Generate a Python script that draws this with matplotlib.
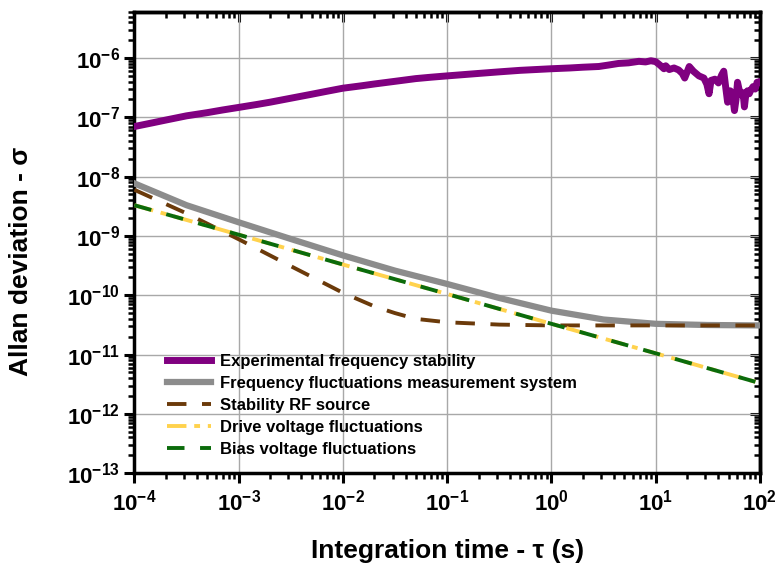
import matplotlib
matplotlib.use("Agg")
import matplotlib.pyplot as plt
from matplotlib.ticker import LogLocator, NullFormatter

plt.rcParams['font.family'] = ['Liberation Sans', 'DejaVu Sans']
plt.rcParams['font.weight'] = 'bold'
plt.rcParams['axes.unicode_minus'] = False

# Experimental frequency stability (purple)
tau_exp = [1e-4, 1.5e-4, 2e-4, 3.16e-4, 5e-4, 7e-4, 1e-3, 1.5e-3, 2e-3,
           3.16e-3, 5e-3, 7e-3, 1e-2, 1.5e-2, 2e-2, 3.16e-2, 5e-2, 7e-2,
           1e-1, 2e-1, 3.16e-1, 5e-1, 1.0, 1.5, 2.0, 2.85, 3.5, 4.4, 5.5,
           6.9, 8.0, 9.0, 10.0, 11.0, 12.0, 12.5, 13.5, 15.0, 16.6, 18.0,
           19.0, 21.0, 23.0, 26.0, 29.0, 31.0, 32.5, 34.0, 37.0, 40.0, 43.0,
           45.0, 47.0, 49.0, 52.0, 55.0, 57.0, 59.0, 61.0, 63.0, 66.0, 69.0,
           71.0, 73.0, 76.0, 79.0, 82.0, 86.0, 90.0, 94.0, 100.0]
sig_exp = [7.0e-8, 8.1e-8, 9.0e-8, 1.06e-7, 1.2e-7, 1.33e-7, 1.47e-7,
           1.65e-7, 1.8e-7, 2.1e-7, 2.45e-7, 2.75e-7, 3.1e-7, 3.4e-7,
           3.65e-7, 4.05e-7, 4.5e-7, 4.75e-7, 5.0e-7, 5.5e-7, 5.85e-7,
           6.2e-7, 6.6e-7, 6.8e-7, 7.0e-7, 7.2e-7, 7.6e-7, 8.1e-7, 8.3e-7,
           8.8e-7, 8.6e-7, 9.0e-7, 8.7e-7, 7.6e-7, 6.6e-7, 7.4e-7, 6.4e-7,
           6.8e-7, 6.3e-7, 5.5e-7, 4.6e-7, 7.2e-7, 6.0e-7, 5.0e-7, 4.6e-7,
           3.6e-7, 2.5e-7, 4.2e-7, 4.4e-7, 3.8e-7, 5.2e-7, 6.0e-7, 3.2e-7,
           1.8e-7, 2.8e-7, 2.2e-7, 1.3e-7, 2.0e-7, 3.9e-7, 3.0e-7, 2.4e-7,
           2.6e-7, 1.5e-7, 2.3e-7, 2.8e-7, 2.5e-7, 2.9e-7, 3.3e-7, 3.0e-7,
           3.9e-7, 4.0e-7]

# Frequency fluctuations measurement system (grey)
tau_sys = [1e-4, 3.16e-4, 1e-3, 3.16e-3, 1e-2, 3.16e-2, 1e-1, 3.16e-1, 1.0,
           3.16, 10.0, 31.6, 100.0]
sig_sys = [7.7e-9, 3.3e-9, 1.7e-9, 8.9e-10, 4.7e-10, 2.6e-10, 1.55e-10,
           9.0e-11, 5.5e-11, 3.9e-11, 3.3e-11, 3.15e-11, 3.1e-11]

# Stability RF source (brown)
tau_rf = [1e-4, 3.16e-4, 1e-3, 3.16e-3, 1e-2, 2e-2, 3.16e-2, 5e-2, 1e-1,
          3.16e-1, 1.0, 10.0, 100.0]
sig_rf = [6.0e-9, 2.4e-9, 8.8e-10, 3.1e-10, 1.1e-10, 6.5e-11, 5.0e-11,
          4.0e-11, 3.5e-11, 3.2e-11, 3.1e-11, 3.1e-11, 3.1e-11]

# Drive voltage fluctuations (yellow) and bias voltage fluctuations (green)
tau_volt = [1e-4, 1e-3, 1e-2, 1e-1, 1.0, 10.0, 100.0]
sig_drive = [3.3e-9, 1.05e-9, 3.3e-10, 1.05e-10, 3.3e-11, 1.05e-11, 3.3e-12]
sig_bias = [3.3e-9, 1.05e-9, 3.3e-10, 1.05e-10, 3.3e-11, 1.05e-11, 3.3e-12]

fig = plt.figure(figsize=(7.77, 5.66), dpi=100)
ax = fig.add_axes([0.173, 0.164, 0.805, 0.815])

ax.plot(tau_exp, sig_exp, color='#800080', lw=5, solid_joinstyle='round',
        label='Experimental frequency stability', zorder=5)
ax.plot(tau_sys, sig_sys, color='#8c8c8c', lw=4.5,
        label='Frequency fluctuations measurement system', zorder=3)
ax.plot(tau_rf, sig_rf, color='#6b3a0a', lw=2.8, ls=(0, (5, 4)),
        label='Stability RF source', zorder=4)
ax.plot(tau_volt, sig_drive, color='#ffd24d', lw=2.8, ls=(0, (5, 2, 1.5, 2)),
        label='Drive voltage fluctuations', zorder=4)
ax.plot(tau_volt, sig_bias, color='#0b6b0b', lw=2.8, ls=(0, (4.5, 4)),
        label='Bias voltage fluctuations', zorder=4)

ax.set_xscale('log')
ax.set_yscale('log')
ax.set_xlim(1e-4, 1e2)
ax.set_ylim(1e-13, 6e-6)

ax.xaxis.set_major_locator(LogLocator(base=10, numticks=20))
ax.yaxis.set_major_locator(LogLocator(base=10, numticks=20))
ax.xaxis.set_minor_locator(LogLocator(base=10, subs=range(2, 10), numticks=50))
ax.yaxis.set_minor_locator(LogLocator(base=10, subs=range(2, 10), numticks=50))
ax.xaxis.set_minor_formatter(NullFormatter())
ax.yaxis.set_minor_formatter(NullFormatter())

ax.grid(True, which='major', color='#a8a8a8', lw=1)
ax.tick_params(which='major', direction='out', length=7, width=2.2,
               labelsize=16)
ax.tick_params(axis='x', which='major', pad=5)
ax.tick_params(which='minor', direction='out', length=4, width=1.8)
for s in ax.spines.values():
    s.set_linewidth(2.5)

# mirrored ticks pointing inward on top and right
top = ax.secondary_xaxis('top')
right = ax.secondary_yaxis('right')
for sec, axis in ((top, top.xaxis), (right, right.yaxis)):
    axis.set_major_locator(LogLocator(base=10, numticks=20))
    axis.set_minor_locator(LogLocator(base=10, subs=range(2, 10), numticks=50))
    axis.set_major_formatter(NullFormatter())
    axis.set_minor_formatter(NullFormatter())
    sec.tick_params(which='major', direction='in', length=7, width=2.2)
    sec.tick_params(which='minor', direction='in', length=4, width=1.8)
    for s in sec.spines.values():
        s.set_linewidth(2.5)

ax.set_xlabel('Integration time - τ (s)', fontsize=19, fontweight='bold')
ax.set_ylabel('Allan deviation - σ', fontsize=19, fontweight='bold')
ax.xaxis.set_label_coords(0.5, -0.143)
ax.yaxis.set_label_coords(-0.162, 0.46)

ax.legend(loc='lower left', bbox_to_anchor=(0.052, 0.035), frameon=False,
          fontsize=12, handlelength=2.65, handletextpad=0.55,
          labelspacing=0.42, borderpad=0, borderaxespad=0)

fig.savefig('out.png', dpi=100)
